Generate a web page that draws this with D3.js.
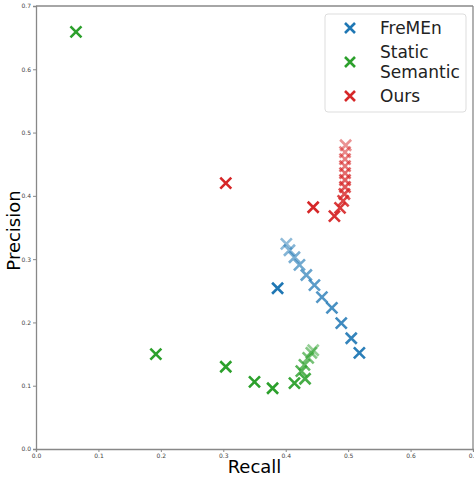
<!DOCTYPE html>
<html lang="en">
<head>
<meta charset="utf-8">
<script src="https://d3js.org/d3.v7.min.js"></script>
<style>
  body { margin: 0; background: #fff; }
  text { font-family: "DejaVu Sans", sans-serif; }
</style>
</head>
<body>
<div id="chart"></div>
<script>
// series data: [recall, precision]
var fremenSingle = [[0.387, 0.254]];
var fremenSweep = [
  [0.518, 0.152], [0.505, 0.175], [0.489, 0.199], [0.474, 0.223],
  [0.458, 0.240], [0.446, 0.259], [0.433, 0.275], [0.422, 0.291],
  [0.414, 0.303], [0.406, 0.314], [0.401, 0.324]
];
var staticSingle = [
  [0.064, 0.659], [0.192, 0.150], [0.304, 0.130], [0.350, 0.106], [0.379, 0.096]
];
var staticSweep = [
  [0.414, 0.104], [0.431, 0.111], [0.425, 0.123], [0.430, 0.133],
  [0.436, 0.144], [0.441, 0.152], [0.444, 0.156]
];
var oursSingle = [[0.304, 0.420], [0.444, 0.382]];
var oursSweep = [
  [0.478, 0.368], [0.487, 0.381], [0.492, 0.392], [0.494, 0.403],
  [0.495, 0.414], [0.495, 0.425], [0.495, 0.436], [0.495, 0.447],
  [0.495, 0.458], [0.495, 0.469], [0.496, 0.480]
];
var xTicks = [0.0, 0.1, 0.2, 0.3, 0.4, 0.5, 0.6, 0.7];
var yTicks = [0.0, 0.1, 0.2, 0.3, 0.4, 0.5, 0.6, 0.7];
var legendNames = [["FreMEn"], ["Static", "Semantic"], ["Ours"]];

var colors = ["#1f77b4", "#2ca02c", "#d62728"];

let width = 474, height = 479;
let margin = {left: 36, right: 1, top: 6, bottom: 30};

let svg = d3.select("#chart").append("svg")
  .attr("width", width)
  .attr("height", height);

let x = d3.scaleLinear().domain([0, 0.7]).range([margin.left, width - margin.right]);
let y = d3.scaleLinear().domain([0, 0.7]).range([height - margin.bottom, margin.top]);

// axes
let xAxis = svg.append("g")
  .attr("transform", "translate(0," + (height - margin.bottom) + ")")
  .call(d3.axisBottom(x).tickValues(xTicks).tickFormat(d3.format(".1f")).tickSize(3).tickPadding(2));
let yAxis = svg.append("g")
  .attr("transform", "translate(" + margin.left + ",0)")
  .call(d3.axisLeft(y).tickValues(yTicks).tickFormat(d3.format(".1f")).tickSize(3).tickPadding(2));
[xAxis, yAxis].forEach(function(a) {
  a.selectAll("text").style("font-size", "6px").attr("fill", "#444");
  a.selectAll("line").attr("stroke", "#888");
  a.select(".domain").attr("stroke", "#888").attr("stroke-width", 1.3);
});
// top and right spines
svg.append("line").attr("x1", margin.left).attr("x2", width - margin.right)
  .attr("y1", margin.top).attr("y2", margin.top).attr("stroke", "#888").attr("stroke-width", 1.3);
svg.append("line").attr("x1", width - margin.right).attr("x2", width - margin.right)
  .attr("y1", margin.top).attr("y2", height - margin.bottom).attr("stroke", "#888").attr("stroke-width", 1.3);

// labels
svg.append("text")
  .attr("x", (margin.left + width - margin.right) / 2)
  .attr("y", 473)
  .attr("text-anchor", "middle")
  .style("font-size", "18px")
  .text("Recall");
svg.append("text")
  .attr("transform", "translate(20," + ((margin.top + height - margin.bottom) / 2 + 3) + ") rotate(-90)")
  .attr("text-anchor", "middle")
  .style("font-size", "18px")
  .text("Precision");

function cross(s) {
  return "M" + (-s) + "," + (-s) + "L" + s + "," + s + "M" + (-s) + "," + s + "L" + s + "," + (-s);
}

function drawSet(data, color, alphaFn) {
  svg.append("g").selectAll("path")
    .data(data)
    .enter()
    .append("path")
    .attr("d", cross(5.5))
    .attr("transform", function(d) { return "translate(" + x(d[0]) + "," + y(d[1]) + ")"; })
    .attr("stroke", color)
    .attr("stroke-width", 2.6)
    .attr("fill", "none")
    .attr("stroke-opacity", alphaFn);
}

// fading sweeps
function fade(n) {
  let a = d3.scaleLinear().domain([0, n - 1]).range([0.95, 0.5]);
  return function(d, i) { return a(i); };
}

drawSet(fremenSweep, colors[0], fade(fremenSweep.length));
drawSet(fremenSingle, colors[0], function() { return 1; });
drawSet(staticSweep, colors[1], fade(staticSweep.length));
drawSet(staticSingle, colors[1], function() { return 1; });
drawSet(oursSweep, colors[2], fade(oursSweep.length));
drawSet(oursSingle, colors[2], function() { return 1; });

// legend
let lg = svg.append("g");
lg.append("rect")
  .attr("x", 325).attr("y", 14).attr("width", 141).attr("height", 98)
  .attr("rx", 3)
  .attr("fill", "#fff").attr("fill-opacity", 0.8)
  .attr("stroke", "#ddd");
let rowsY = [28, 62, 96];
legendNames.forEach(function(names, i) {
  lg.append("path")
    .attr("d", cross(5))
    .attr("transform", "translate(350," + rowsY[i] + ")")
    .attr("stroke", colors[i])
    .attr("stroke-width", 2.6)
    .attr("fill", "none");
  names.forEach(function(n, j) {
    lg.append("text")
      .attr("x", 380)
      .attr("y", rowsY[i] + 6 - (names.length - 1) * 10 + j * 20)
      .style("font-size", "17px")
      .attr("fill", "#222")
      .text(n);
  });
});
</script>
</body>
</html>
